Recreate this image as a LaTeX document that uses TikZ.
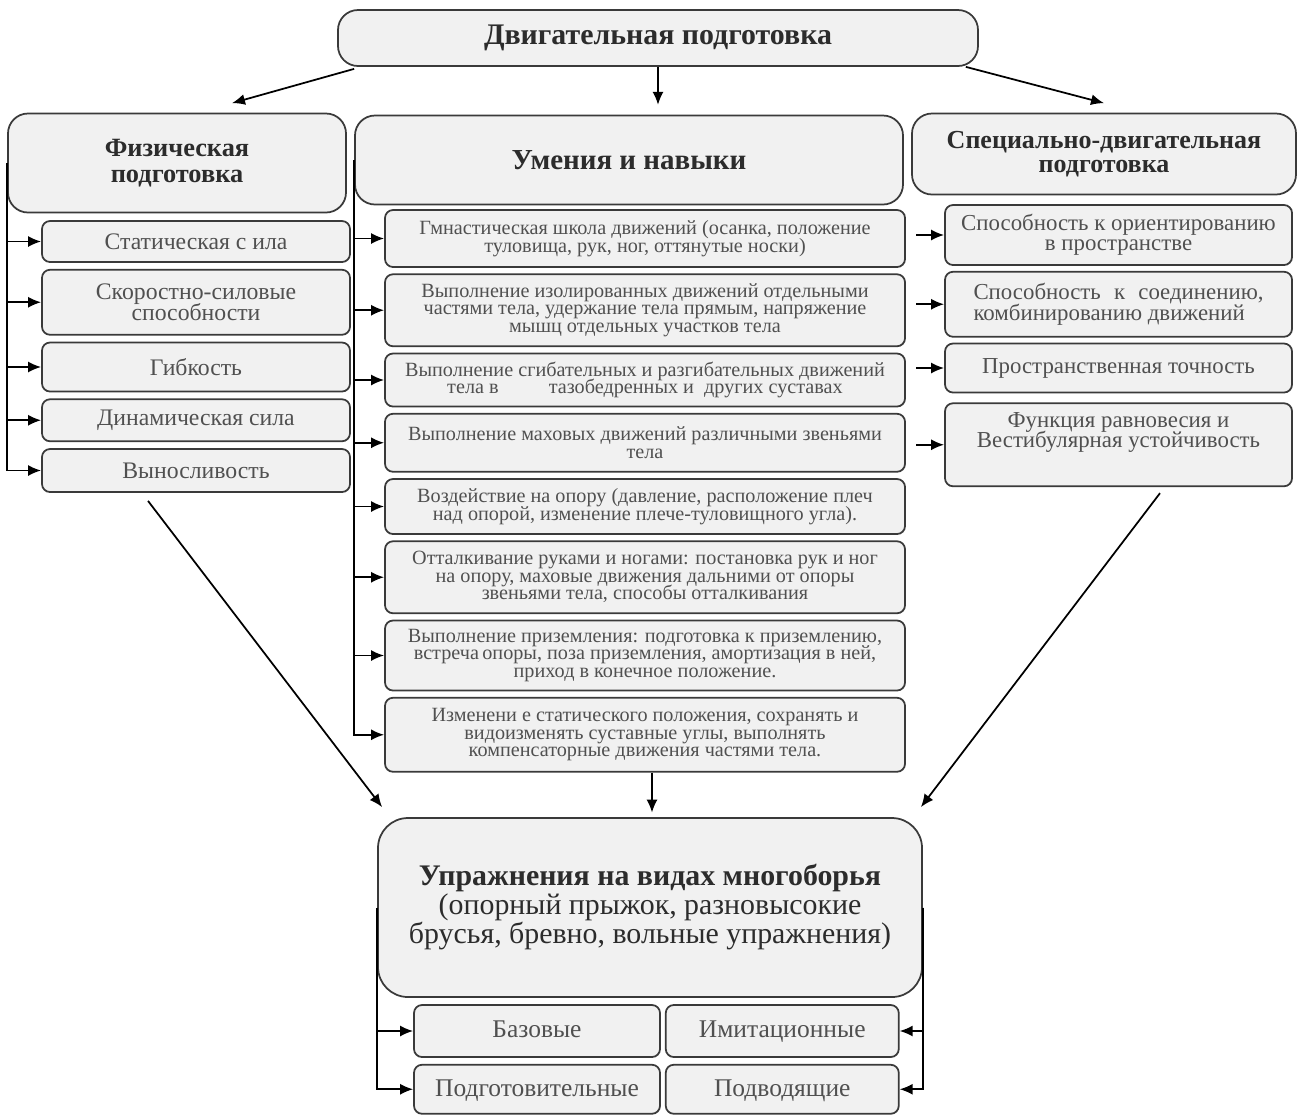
\documentclass[tikz,border=0pt]{standalone}
\usepackage{fontspec}
\setmainfont{Liberation Serif}
\usepackage{xcolor}
\usepackage{tikz}
\usetikzlibrary{arrows.meta, positioning, calc}
\definecolor{edge}{HTML}{3A3A3A}
\definecolor{panel}{HTML}{F1F1F1}
\definecolor{ink}{HTML}{2C2C2C}
\definecolor{inksoft}{HTML}{505050}
% keep the leading fixed, even where lines come close
\lineskiplimit=-\maxdimen
\tikzset{
  box/.style      = {draw=edge, fill=panel, line width=0.35mm, rectangle, rounded corners=1.6mm,
                     align=center, inner sep=2pt, text=inksoft},
  headbox/.style  = {box, rounded corners=4mm, text=ink, font=\fontsize{15}{15}\selectfont\bfseries},
  physbox/.style  = {box, minimum width=61.6mm, font=\fontsize{13.5}{12}\selectfont},
  skillbox/.style = {box, minimum width=104mm, font=\fontsize{11.5}{10}\selectfont},
  specbox/.style  = {box, minimum width=69.4mm, font=\fontsize{13}{11.5}\selectfont},
  kindbox/.style  = {box, text height=2.1ex, text depth=0.4ex, font=\fontsize{14.5}{14}\selectfont},
  flow/.style     = {-{Latex[length=2.6mm,width=2.2mm]}, draw=black, line width=0.35mm},
}

\begin{document}
\begin{tikzpicture}[x=0.2mm, y=-0.2mm]
  \useasboundingbox (0,0) rectangle (1302,1115);

  \node[headbox, minimum width=128mm, minimum height=11.2mm,
        font=\fontsize{17}{17}\selectfont\bfseries] (motor) at (658,38) {Двигательная подготовка};

  \node[headbox, minimum width=67.6mm, minimum height=19.8mm] (phys) at (177,163) {Физическая\\подготовка};
  \node[headbox, minimum width=109.6mm, minimum height=17.8mm,
        font=\fontsize{16.5}{16}\selectfont\bfseries] (skill) at (629,160) {Умения и навыки};
  \node[headbox, minimum width=76.8mm, minimum height=16.2mm,
        font=\fontsize{14.8}{14}\selectfont\bfseries] (spec) at (1104,154) {Специально-двигательная\\подготовка};

  \draw[flow] ([xshift=3.4mm,yshift=-0.4mm]motor.south west) -- ([xshift=11mm,yshift=1.9mm]phys.north);
  \draw[flow] (motor.south) -- ($(motor.south)+(0,-7.6mm)$);
  \draw[flow] ([xshift=-2.6mm]motor.south east) -- ([yshift=1.9mm]spec.north);

  % physical qualities
  \node[physbox, minimum height=8.2mm] (p1) at (196,241.5) {Статическая с ила};
  \node[physbox, minimum height=13mm, below=1.2mm of p1] (p2) {Скоростно-силовые\\способности};
  \node[physbox, minimum height=9.8mm, below=1.2mm of p2] (p3) {Гибкость};
  \node[physbox, minimum height=8.4mm, below=1.2mm of p3] (p4) {Динамическая сила};
  \node[physbox, minimum height=8.6mm, below=1.2mm of p4] (p5) {Выносливость};
  \foreach \k in {1,...,5}
    \draw[flow] (phys.west) |- (p\k.west);

  % skills
  \node[skillbox, minimum height=11.4mm] (m1) at (645,238.5)
    {Гмнастическая школа движений (осанка, положение\\туловища, рук, ног, оттянутые носки)};
  \node[skillbox, minimum height=14.4mm, below=1.1mm of m1] (m2)
    {Выполнение изолированных движений отдельными\\частями тела, удержание тела прямым, напряжение\\мышц отдельных участков тела};
  \node[skillbox, minimum height=10.6mm, below=1.1mm of m2] (m3)
    {Выполнение сгибательных и разгибательных движений\\тела в \hspace{8mm} тазобедренных и\ \ других суставах};
  \node[skillbox, minimum height=11.6mm, below=1.1mm of m3] (m4)
    {Выполнение маховых движений различными звеньями\\тела};
  \node[skillbox, minimum height=11mm, below=1.1mm of m4] (m5)
    {Воздействие на опору (давление, расположение плеч\\над опорой, изменение плече-туловищного угла).};
  \node[skillbox, minimum height=14.4mm, below=1.1mm of m5] (m6)
    {Отталкивание руками и ногами: постановка рук и ног\\на опору, маховые движения дальними от опоры\\звеньями тела, способы отталкивания};
  \node[skillbox, minimum height=14mm, below=1.1mm of m6] (m7)
    {Выполнение приземления: подготовка к приземлению,\\встреча\,опоры, поза приземления, амортизация в ней,\\приход в конечное положение.};
  \node[skillbox, minimum height=14.8mm, below=1.1mm of m7] (m8)
    {Изменени е статического положения, сохранять и\\видоизменять суставные углы, выполнять\\компенсаторные движения частями тела.};
  \foreach \k in {1,...,8}
    \draw[flow] (skill.west) |- (m\k.west);

  % special motor abilities
  \node[specbox, minimum height=12mm] (r1) at (1118.5,235) {Способность к ориентированию\\в пространстве};
  \node[specbox, minimum height=13mm, below=1mm of r1, align=left] (r2)
    {\makebox[58mm][s]{Способность к соединению,}\\комбинированию движений};
  \node[specbox, minimum height=9.8mm, below=1mm of r2] (r3) {Пространственная точность};
  \node[specbox, minimum height=16.6mm, below=1.8mm of r3] (r4)
    {Функция равновесия и\\Вестибулярная устойчивость\\[2mm]\mbox{}};
  \foreach \k in {1,...,4}
    \draw[flow] ([xshift=-5.6mm]r\k.west) -- (r\k.west);

  % all-around events
  \node[box, rounded corners=6mm, minimum width=108.8mm, minimum height=35.8mm, text=ink,
        font=\fontsize{17}{16.5}\selectfont] (event) at (650,907.5)
    {{\bfseries Упражнения на видах многоборья}\\(опорный прыжок, разновысокие\\брусья, бревно, вольные упражнения)};
  \draw[flow] ([xshift=-9.6mm,yshift=-1.6mm]p5.south) -- ([xshift=1mm,yshift=2mm]event.north west);
  \draw[flow] ([xshift=1.4mm]m8.south) -- ++(0,-8mm);
  \draw[flow] ([xshift=8.3mm,yshift=-1.2mm]r4.south) -- ([xshift=-0.4mm,yshift=2mm]event.north east);

  \node[kindbox, minimum width=49.2mm, minimum height=10.4mm] (k1) at (537,1031) {Базовые};
  \node[kindbox, minimum width=46.6mm, minimum height=10.4mm, right=0.8mm of k1] (k2) {Имитационные};
  \node[kindbox, minimum width=49.2mm, minimum height=9.8mm, below=1.2mm of k1] (k3) {Подготовительные};
  \node[kindbox, minimum width=46.6mm, minimum height=9.8mm, below=1.2mm of k2] (k4) {Подводящие};
  \draw[flow] (event.west) |- (k1.west);
  \draw[flow] (event.west) |- (k3.west);
  \draw[flow] (event.east) |- (k2.east);
  \draw[flow] (event.east) |- (k4.east);
\end{tikzpicture}
\end{document}
